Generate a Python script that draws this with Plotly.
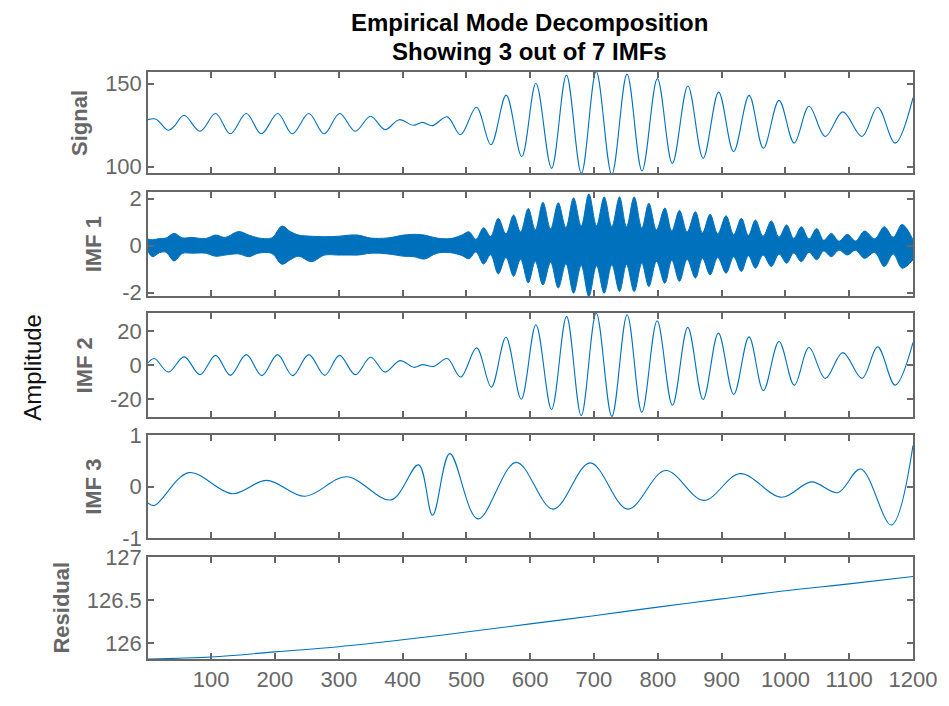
import plotly.graph_objects as go

# ---------------- data ----------------
# Signal: turning points (sample index, value)
signal_x = [1, 13, 33, 42, 57.6, 82.5, 107, 130, 155, 178.5, 204.4, 227.2, 253.1, 277, 301.4,
            325.8, 349.7, 372.5, 394.8, 417, 431, 446.7, 470, 490.8, 515.7, 538.5, 562.4,
            586.8, 609, 633.5, 656.8, 680.3, 703.5, 727.9, 751.8, 775.3, 799.4, 822.8, 847.2,
            871.1, 895.4, 918.8, 943.2, 965.5, 990, 1013.8, 1037.1, 1062.5, 1090, 1120,
            1144.6, 1172, 1200]
signal_y = [128.3, 128.7, 121.9, 124.3, 131.0, 121.3, 132.0, 119.8, 132.0, 119.8, 132.0, 119.8,
            132.0, 119.8, 132.0, 121.3, 130.4, 122.3, 128.3, 124.9, 126.7, 124.7, 130.0, 119.2,
            135.8, 113.2, 143.1, 106.1, 150.2, 99.0, 155.1, 96.0, 157.3, 95.3, 155.7, 97.4,
            153.0, 102.0, 148.6, 105.1, 144.9, 109.1, 142.9, 111.1, 139.9, 114.2, 136.4, 118.2,
            133.0, 118.2, 135.8, 114.2, 141.5]

# IMF 1: envelope of the dense high-frequency band (sample, upper, lower)
imf1_x = [1, 8, 19, 29, 42, 55, 70, 91, 107, 122, 143, 159, 174, 195, 211, 224, 237, 257, 278,
          299, 319, 330, 351, 377, 402, 418, 434, 454, 475, 493,
          504, 515, 527, 538, 550, 562, 574, 585, 597, 608, 620, 632, 644, 656, 668, 680, 692,
          704, 716, 728, 740, 751, 763, 775, 786, 798, 811, 822, 834, 846, 859, 870, 882, 894,
          907, 919, 931, 942, 953, 965, 978, 990, 1002, 1013, 1025, 1037, 1049, 1060, 1072,
          1084, 1097, 1110, 1124, 1140, 1155, 1169, 1183, 1200]
imf1_upper = [0.28, 0.25, 0.30, 0.32, 0.52, 0.33, 0.35, 0.30, 0.45, 0.35, 0.60, 0.45, 0.33, 0.33,
              0.83, 0.60, 0.45, 0.40, 0.38, 0.40, 0.45, 0.45, 0.32, 0.33, 0.45, 0.48, 0.45, 0.32,
              0.30, 0.45,
              0.59, 0.27, 0.76, 0.39, 1.16, 0.50, 1.30, 0.58, 1.58, 0.67, 1.84, 0.71, 1.82, 0.77,
              2.03, 0.84, 2.20, 0.85, 2.07, 0.81, 2.07, 0.80, 2.07, 0.75, 1.80, 0.67, 1.60, 0.62,
              1.50, 0.58, 1.44, 0.54, 1.33, 0.50, 1.27, 0.47, 1.16, 0.43, 1.09, 0.40, 1.05, 0.36,
              0.88, 0.31, 0.80, 0.28, 0.73, 0.23, 0.52, 0.19, 0.48, 0.20, 0.62, 0.29, 0.80, 0.36,
              0.90, 0.25]
imf1_lower = [-0.25, -0.47, -0.30, -0.28, -0.65, -0.33, -0.32, -0.32, -0.45, -0.40, -0.35, -0.47,
              -0.32, -0.33, -0.79, -0.60, -0.45, -0.68, -0.40, -0.40, -0.40, -0.40, -0.32, -0.35,
              -0.45, -0.47, -0.57, -0.32, -0.30, -0.42,
              -0.56, -0.27, -0.78, -0.39, -1.20, -0.50, -1.30, -0.58, -1.58, -0.67, -1.67, -0.71,
              -1.80, -0.77, -2.02, -0.84, -2.16, -0.85, -2.02, -0.81, -1.95, -0.80, -1.95, -0.75,
              -1.74, -0.67, -1.60, -0.62, -1.52, -0.58, -1.38, -0.54, -1.24, -0.50, -1.17, -0.47,
              -1.10, -0.43, -0.96, -0.40, -0.89, -0.36, -0.75, -0.31, -0.68, -0.28, -0.60, -0.23,
              -0.47, -0.19, -0.40, -0.20, -0.54, -0.29, -0.89, -0.36, -0.96, -0.60]

# IMF 2: turning points
imf2_x = [1, 11, 33, 57.6, 82.5, 107, 130, 155, 179.5, 204, 227.7, 253, 278, 301, 326, 350,
          372.5, 396, 418, 431, 449, 470, 491, 516, 539, 562, 586, 609, 633.5, 657, 680, 703.5,
          728, 752, 775, 799, 823, 847, 871, 895, 919, 943, 965.5, 990, 1014, 1037, 1062.5,
          1090, 1120, 1144.6, 1172, 1200]
imf2_y = [1.4, 4.0, -4.0, 5.0, -5.5, 5.9, -5.9, 6.3, -6.1, 6.3, -6.1, 6.3, -5.9, 5.9, -5.5, 4.8,
          -4.0, 2.8, -1.2, 0.4, -0.6, 4.0, -6.9, 10.3, -12.9, 16.6, -20.0, 24.0, -26.1, 28.9,
          -29.7, 30.9, -30.1, 29.9, -27.7, 26.3, -23.6, 22.4, -20.2, 19.0, -17.2, 16.8, -14.9,
          14.1, -11.7, 10.5, -7.7, 7.5, -7.7, 10.9, -11.7, 13.5]

# IMF 3: turning points
imf3_x = [1, 11, 65, 133, 187, 247, 312, 382, 425, 447, 474, 518, 578, 636, 694, 753, 812, 872,
          929, 994, 1041, 1082, 1118, 1166, 1200]
imf3_y = [-0.32, -0.37, 0.27, -0.14, 0.12, -0.19, 0.19, -0.26, 0.42, -0.56, 0.64, -0.63, 0.47,
          -0.44, 0.46, -0.44, 0.31, -0.27, 0.25, -0.21, 0.09, -0.12, 0.34, -0.75, 0.80]

# Residual trend
resid_x = [1, 100, 200, 300, 400, 500, 600, 700, 800, 900, 1000, 1100, 1200]
resid_y = [125.817, 125.84, 125.90, 125.96, 126.04, 126.13, 126.225, 126.32, 126.42, 126.515,
           126.61, 126.69, 126.775]

panel_names = ["Signal", "IMF 1", "IMF 2", "IMF 3", "Residual"]
y_ranges = [[96.2, 157.0], [-2.14, 2.28], [-30.5, 30.9], [-1.002, 1.002], [125.817, 127.002]]
y_ticks = [[100, 150], [-2, 0, 2], [-20, 0, 20], [-1, 0, 1], [126, 126.5, 127]]
y_ticktext = [["100", "150"], ["-2", "0", "2"], ["-20", "0", "20"], ["-1", "0", "1"],
              ["126", "126.5", "127"]]
x_ticks = [100, 200, 300, 400, 500, 600, 700, 800, 900, 1000, 1100, 1200]

title_lines = ["Empirical Mode Decomposition", "Showing 3 out of 7 IMFs"]

# ---------------- layout geometry ----------------
# The page body adds an 8px offset; all reference pixel positions are shifted by it.
OFF = 8
W, H = 949 - OFF, 706 - OFF
AX_LEFT, AX_RIGHT = 148 - OFF, 918 - OFF
panels_ref = [(72, 173), (192, 296), (313, 417), (435, 538), (557, 659)]
panels_px = [(a - OFF, b - OFF) for a, b in panels_ref]
L, R = AX_LEFT, W - AX_RIGHT
T, B = panels_px[0][0], H - panels_px[-1][1]
plot_h = H - T - B
label_x_px = [79 - OFF, 93 - OFF, 84 - OFF, 93 - OFF, 60 - OFF]


def py(px):
    return (H - B - px) / plot_h


def pxx(px):
    return (px - L) / (W - L - R)


BLUE = "#0072BD"
AX = "#676767"
FONT = "Liberation Sans, Arial, Helvetica, sans-serif"
TICK_SIZE = 22

fig = go.Figure()


def line_trace(x, y, k):
    return go.Scatter(x=x, y=y, mode="lines", line=dict(color=BLUE, width=1.1, shape="spline"),
                      xaxis="x" if k == 1 else f"x{k}", yaxis="y" if k == 1 else f"y{k}",
                      showlegend=False, hoverinfo="skip")


fig.add_trace(line_trace(signal_x, signal_y, 1))
# IMF 1 as a filled band between envelopes
fig.add_trace(go.Scatter(x=imf1_x, y=imf1_upper, mode="lines",
                         line=dict(color=BLUE, width=1, shape="spline"),
                         xaxis="x2", yaxis="y2", showlegend=False, hoverinfo="skip"))
fig.add_trace(go.Scatter(x=imf1_x, y=imf1_lower, mode="lines",
                         line=dict(color=BLUE, width=1, shape="spline"),
                         fill="tonexty", fillcolor=BLUE,
                         xaxis="x2", yaxis="y2", showlegend=False, hoverinfo="skip"))
fig.add_trace(line_trace(imf2_x, imf2_y, 3))
fig.add_trace(line_trace(imf3_x, imf3_y, 4))
fig.add_trace(line_trace(resid_x, resid_y, 5))

layout = dict(width=W, height=H, margin=dict(l=L, r=R, t=T, b=B),
              paper_bgcolor="white", plot_bgcolor="white",
              font=dict(family=FONT, size=TICK_SIZE, color=AX), showlegend=False)

annotations = []
for i in range(5):
    k = i + 1
    top, bot = panels_px[i]
    xa = dict(domain=[0, 1], range=[1, 1200], tickvals=x_ticks,
              ticks="inside", ticklen=6, tickcolor=AX, tickwidth=1.5,
              showline=True, linecolor=AX, linewidth=1.5, mirror="allticks",
              showgrid=False, zeroline=False, showticklabels=(k == 5),
              tickfont=dict(family=FONT, size=TICK_SIZE, color=AX),
              anchor="y" if k == 1 else f"y{k}")
    if k > 1:
        xa["matches"] = "x"
    ya = dict(domain=[py(bot), py(top)], range=y_ranges[i], tickvals=y_ticks[i],
              ticktext=y_ticktext[i],
              ticks="inside", ticklen=6, tickcolor=AX, tickwidth=1.5,
              showline=True, linecolor=AX, linewidth=1.5, mirror="allticks",
              showgrid=False, zeroline=False,
              tickfont=dict(family=FONT, size=TICK_SIZE, color=AX),
              anchor="x" if k == 1 else f"x{k}")
    layout["xaxis" if k == 1 else f"xaxis{k}"] = xa
    layout["yaxis" if k == 1 else f"yaxis{k}"] = ya
    annotations.append(dict(text=f"<b>{panel_names[i]}</b>", xref="paper", yref="paper",
                            x=pxx(label_x_px[i]), y=py((top + bot) / 2),
                            xanchor="center", yanchor="middle", textangle=-90,
                            showarrow=False, font=dict(family=FONT, size=22, color=AX)))

annotations.append(dict(text="Amplitude", xref="paper", yref="paper",
                        x=pxx(31 - OFF), y=py(367 - OFF), xanchor="center", yanchor="middle",
                        textangle=-90, showarrow=False,
                        font=dict(family=FONT, size=24, color="#111111")))
# first title line anchored to the very top of the figure so it is never clipped
annotations.append(dict(text=f"<b>{title_lines[0]}</b>", xref="paper", yref="paper",
                        x=pxx(532 - OFF), y=py(0), xanchor="center", yanchor="top",
                        borderpad=0, showarrow=False,
                        font=dict(family=FONT, size=24, color="#000000")))
annotations.append(dict(text=f"<b>{title_lines[1]}</b>", xref="paper", yref="paper",
                        x=pxx(532 - OFF), y=py(51 - OFF), xanchor="center", yanchor="middle",
                        borderpad=0, showarrow=False,
                        font=dict(family=FONT, size=24, color="#000000")))
layout["annotations"] = annotations

fig.update_layout(**layout)
fig.write_html("out.html")
